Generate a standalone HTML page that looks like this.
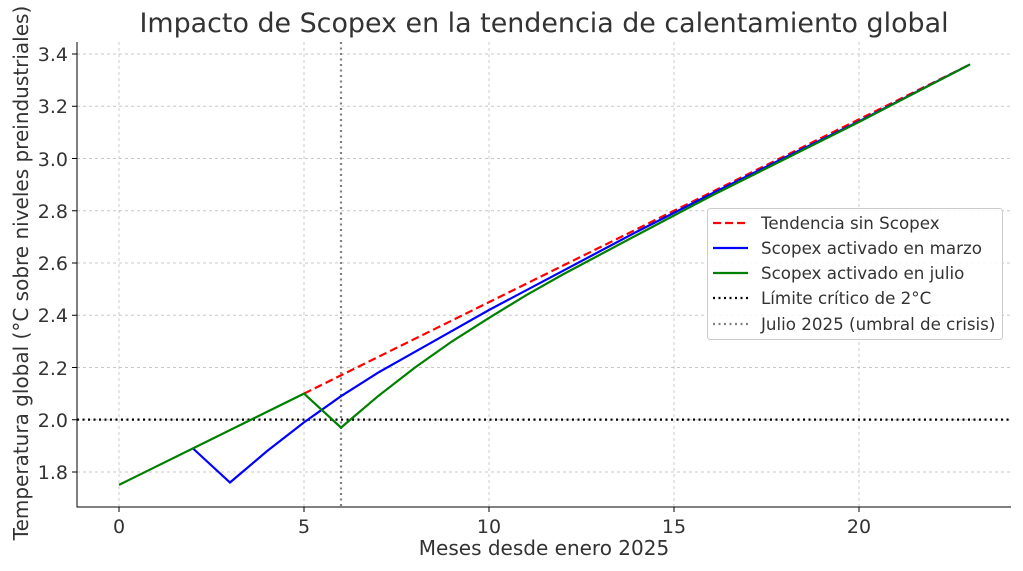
<!DOCTYPE html><html><head><meta charset="utf-8"><style>body{margin:0;background:#fff}svg{display:block}text{font-family:"DejaVu Sans","Liberation Sans",sans-serif;fill:#333}</style></head><body>
<svg width="1023" height="571" xmlns="http://www.w3.org/2000/svg">
<g stroke="#c8c8c8" stroke-width="0.9" stroke-dasharray="3,3">
<line x1="119" y1="42" x2="119" y2="507"/><line x1="304" y1="42" x2="304" y2="507"/><line x1="489" y1="42" x2="489" y2="507"/><line x1="674" y1="42" x2="674" y2="507"/><line x1="859" y1="42" x2="859" y2="507"/>
<line x1="77" y1="472" x2="1011" y2="472"/><line x1="77" y1="419.75" x2="1011" y2="419.75"/><line x1="77" y1="367.5" x2="1011" y2="367.5"/><line x1="77" y1="315.25" x2="1011" y2="315.25"/><line x1="77" y1="263" x2="1011" y2="263"/><line x1="77" y1="210.75" x2="1011" y2="210.75"/><line x1="77" y1="158.5" x2="1011" y2="158.5"/><line x1="77" y1="106.25" x2="1011" y2="106.25"/><line x1="77" y1="54" x2="1011" y2="54"/>
</g>
<line x1="341" y1="42" x2="341" y2="507" stroke="#808080" stroke-width="2.2" stroke-dasharray="2,3.5"/>
<line x1="77" y1="419.6" x2="1011" y2="419.6" stroke="#000" stroke-width="2.2" stroke-dasharray="2,3.5"/>
<line x1="304" y1="393.6" x2="970" y2="64.45" stroke="red" stroke-width="2.2" stroke-dasharray="8,4"/>
<polyline fill="none" stroke="blue" stroke-width="2.2" points="193,448.5 230,482.5 267,451.1 304,422.4 341,396.2 378,372.7 415,351.8 452,330.9 489,310 563,270.8 637,231.6 711,194 785,157.5 859,121.4 970,64.45"/>
<polyline fill="none" stroke="green" stroke-width="2.2" points="119,484.9 304,393.6 341,427.6 378,396.2 415,367.5 452,341.4 489,317.9 526,295.3 563,274.4 637,235 711,196 785,159 859,122 970,64.45"/>
<path d="M77,42 V507 H1011" fill="none" stroke="#000" stroke-width="1"/>
<g stroke="#000"><line x1="119" y1="507" x2="119" y2="512"/><line x1="304" y1="507" x2="304" y2="512"/><line x1="489" y1="507" x2="489" y2="512"/><line x1="674" y1="507" x2="674" y2="512"/><line x1="859" y1="507" x2="859" y2="512"/>
<line x1="72" y1="472" x2="77" y2="472"/><line x1="72" y1="419.75" x2="77" y2="419.75"/><line x1="72" y1="367.5" x2="77" y2="367.5"/><line x1="72" y1="315.25" x2="77" y2="315.25"/><line x1="72" y1="263" x2="77" y2="263"/><line x1="72" y1="210.75" x2="77" y2="210.75"/><line x1="72" y1="158.5" x2="77" y2="158.5"/><line x1="72" y1="106.25" x2="77" y2="106.25"/><line x1="72" y1="54" x2="77" y2="54"/></g>
<g font-size="19" text-anchor="middle"><text x="119" y="533">0</text><text x="304" y="533">5</text><text x="489" y="533">10</text><text x="674" y="533">15</text><text x="859" y="533">20</text></g>
<g font-size="19" text-anchor="end"><text x="68" y="479">1.8</text><text x="68" y="427">2.0</text><text x="68" y="375">2.2</text><text x="68" y="322">2.4</text><text x="68" y="270">2.6</text><text x="68" y="218">2.8</text><text x="68" y="166">3.0</text><text x="68" y="113">3.2</text><text x="68" y="61">3.4</text></g>
<text x="544" y="555" font-size="20" text-anchor="middle">Meses desde enero 2025</text>
<text transform="translate(28,273) rotate(-90)" font-size="20" text-anchor="middle">Temperatura global (°C sobre niveles preindustriales)</text>
<text x="544" y="32" font-size="26.9" text-anchor="middle">Impacto de Scopex en la tendencia de calentamiento global</text>
<rect x="707.5" y="208.5" width="295" height="131" rx="3" fill="#fff" fill-opacity="0.85" stroke="#ccc"/>
<line x1="713" y1="223" x2="748" y2="223" stroke="red" stroke-width="2.2" stroke-dasharray="8,4"/>
<line x1="713" y1="248" x2="748" y2="248" stroke="blue" stroke-width="2.2"/>
<line x1="713" y1="273" x2="748" y2="273" stroke="green" stroke-width="2.2"/>
<line x1="713" y1="298" x2="748" y2="298" stroke="#000" stroke-width="2.2" stroke-dasharray="2,3.5"/>
<line x1="713" y1="324" x2="748" y2="324" stroke="#808080" stroke-width="2.2" stroke-dasharray="2,3.5"/>
<g font-size="16.7"><text x="761" y="229">Tendencia sin Scopex</text><text x="761" y="254">Scopex activado en marzo</text><text x="761" y="279">Scopex activado en julio</text><text x="761" y="304">Límite crítico de 2°C</text><text x="761" y="330">Julio 2025 (umbral de crisis)</text></g>
</svg></body></html>
